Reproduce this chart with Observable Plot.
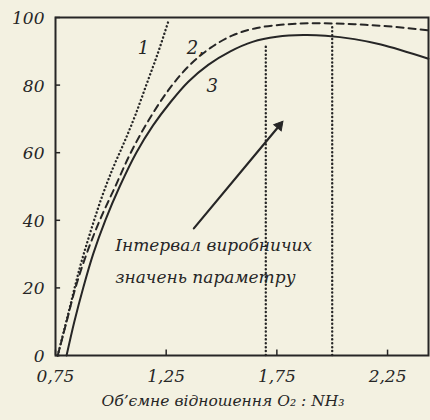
<!DOCTYPE html>
<html><head><meta charset="utf-8">
<script src="https://cdn.jsdelivr.net/npm/d3@7"></script>
<script src="https://cdn.jsdelivr.net/npm/@observablehq/plot@0.6"></script>
<style>
html,body{margin:0;padding:0;background:#f3f1e1;}
</style></head><body><div id="chart"></div>
<script>
// ---- data ----
const xTicks = [0.75, 1.25, 1.75, 2.25];
const yTicks = [0, 20, 40, 60, 80, 100];

// curve 1 (dotted)
const curve1X = [0.76, 0.81, 0.86, 0.91, 0.96, 1.01, 1.06, 1.11, 1.16, 1.21, 1.258];
const curve1Y = [0, 13, 26, 37, 47, 55.5, 63, 71, 80, 89, 98.5];
// curve 2 (dashed)
const curve2X = [0.76, 0.80, 0.84, 0.89, 0.95, 1.02, 1.09, 1.17, 1.26, 1.35, 1.45, 1.55, 1.66, 1.8, 1.95, 2.1, 2.25, 2.435];
const curve2Y = [0, 10, 20, 30, 40, 50, 60, 69.5, 78.5, 85.5, 91, 94.7, 96.9, 98, 98.3, 98, 97.4, 96.2];
// curve 3 (solid)
const curve3X = [0.80, 0.835, 0.875, 0.92, 0.975, 1.04, 1.115, 1.19, 1.27, 1.35, 1.44, 1.54, 1.64, 1.75, 1.87, 1.97, 2.1, 2.22, 2.435];
const curve3Y = [0, 10, 20, 30, 40, 50, 60, 68, 75, 81, 86, 90, 92.8, 94.3, 94.8, 94.6, 93.6, 92, 87.8];

// production interval
const intervalX = [1.7, 2.0];
const intervalTop = [92, 98];

// curve labels
const curveLabels = ["1", "2,", "3"];
const curveLabelX = [1.147, 1.382, 1.458];
const curveLabelY = [91, 91, 79.6];

// annotation
const noteLines = ["Інтервал виробничих", "значень параметру"];
const noteX = [1.02, 1.02];
const noteY = [32.6, 23.1];
const arrowFrom = [1.375, 37.6];
const arrowTo = [1.78, 69.5];

const xLabel = "Об’ємне відношення O₂ : NH₃";

// ---- build ----
const rows = (xs, ys) => xs.map((x, i) => ({x, y: ys[i]}));
const curve1 = rows(curve1X, curve1Y);
const curve2 = rows(curve2X, curve2Y);
const curve3 = rows(curve3X, curve3Y);
const labels = curveLabels.map((t, i) => ({t, x: curveLabelX[i], y: curveLabelY[i]}));
const notes = noteLines.map((t, i) => ({t, x: noteX[i], y: noteY[i]}));
const arrow = [{x1: arrowFrom[0], y1: arrowFrom[1], x2: arrowTo[0], y2: arrowTo[1]}];

const ink = "#262626";
const font = "DejaVu Serif";

const chart = Plot.plot({
  width: 430, height: 420,
  marginTop: 17, marginRight: 2, marginBottom: 65, marginLeft: 55,
  style: {background: "#f3f1e1", fontFamily: font, fontStyle: "italic", fontSize: "17px", color: ink},
  x: {domain: [0.75, 2.435]},
  y: {domain: [0, 100]},
  marks: [
    Plot.axisX(xTicks, {tickSize: 0, tickPadding: 14, tickFormat: d => d.toFixed(2).replace(".", ","), label: null, fontSize: 17}),
    Plot.axisY(yTicks, {tickSize: 0, tickPadding: 11, label: null, dy: 1, fontSize: 17}),
    Plot.ruleX(xTicks, {x: d => d, y1: 0, y2: 1.6, stroke: ink, strokeWidth: 1.5}),
    Plot.ruleY(yTicks, {y: d => d, x1: 0.75, x2: 0.773, stroke: ink, strokeWidth: 1.5}),
    Plot.ruleX(intervalX, {x: d => d, y1: 0, y2: (d, i) => intervalTop[i], stroke: ink, strokeWidth: 2.4, strokeDasharray: "0.1,3.8", strokeLinecap: "round"}),
    Plot.line(curve1, {x: "x", y: "y", curve: "catmull-rom", stroke: ink, strokeWidth: 2.4, strokeDasharray: "0.1,3.8", strokeLinecap: "round"}),
    Plot.line(curve2, {x: "x", y: "y", curve: "catmull-rom", stroke: ink, strokeWidth: 2, strokeDasharray: "7,5"}),
    Plot.line(curve3, {x: "x", y: "y", curve: "catmull-rom", stroke: ink, strokeWidth: 2}),
    Plot.arrow(arrow, {x1: "x1", y1: "y1", x2: "x2", y2: "y2", stroke: ink, strokeWidth: 2.2, headLength: 0, insetEnd: 6}),
    Plot.dot(arrow, {x: "x2", y: "y2", symbol: "triangle", r: 3.6, rotate: 40, dx: -4.2, dy: 5, fill: ink, stroke: ink, strokeWidth: 1}),
    Plot.text(labels, {x: "x", y: "y", text: "t", fontSize: 18, fill: ink}),
    Plot.text(notes, {x: "x", y: "y", text: "t", textAnchor: "start", fontSize: 17, fill: ink}),
    Plot.text([xLabel], {frameAnchor: "bottom", dy: 50, dx: -19, fontSize: 15.5, fill: ink}),
    Plot.frame({stroke: ink, strokeWidth: 2})
  ]
});
document.getElementById("chart").append(chart);
</script>
</body></html>
